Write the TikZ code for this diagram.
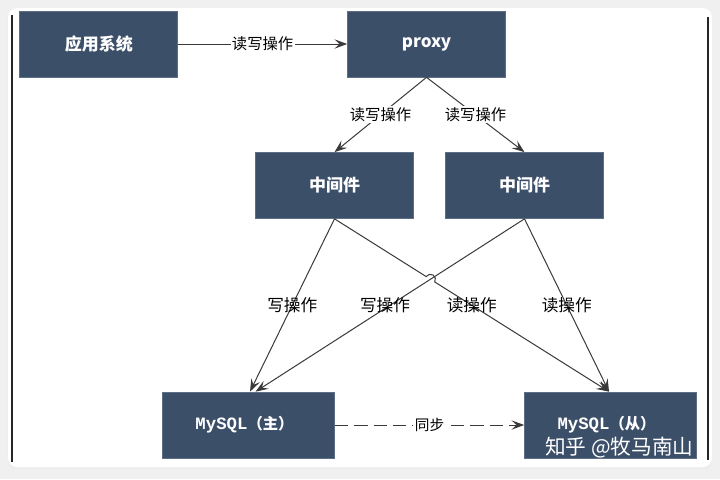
\documentclass[tikz,border=0pt]{standalone}
\usepackage{fontspec}
\newfontfamily\cjk{Noto Sans CJK SC}
\setmonofont{Liberation Mono}
\usetikzlibrary{arrows.meta,calc,intersections}
\definecolor{boxblue}{HTML}{3C4F69}
\definecolor{boxedge}{HTML}{5E6E84}
\definecolor{linegray}{HTML}{3A3A3A}
\definecolor{bggray}{HTML}{F0F0F0}
\begin{document}
\begin{tikzpicture}[x=0.75pt,y=0.75pt,
  box/.style={draw=boxedge, line width=0.5pt, fill=boxblue, text=white,
    minimum width=118.5pt, minimum height=49.5pt, inner sep=0pt,
    font=\cjk\bfseries\fontsize{12.75}{14}\selectfont},
  dbbox/.style={box, minimum width=129pt, font=\ttfamily\bfseries\fontsize{13}{14}\selectfont},
  conn/.style={draw=linegray, line width=0.75pt,
    -{Stealth[length=9.5pt,width=7pt,inset=3.8pt,fill=linegray]}},
  toplab/.style={font=\cjk\fontsize{11.5}{13}\selectfont, text=black, fill=white, inner sep=1pt},
  lowlab/.style={font=\cjk\fontsize{12.5}{14}\selectfont, text=black, inner sep=0pt},
  frame/.style={line width=1.2pt, draw=black!85}
]
\useasboundingbox (0,0) rectangle (720,-479);
\fill[bggray] (0,0) rectangle (720,-479);
\fill[black!7, rounded corners=7pt] (7.5,-9) rectangle (712.5,-469.5);
\fill[white, rounded corners=7pt] (8,-8) rectangle (712,-467);
\draw[frame] (12,-15) -- (12,-462);
\draw[frame] (708,-17) -- (708,-460);

% boxes
\node[box] (app) at (98.75,-44) {应用系统};
\node[box] (proxy) at (426.5,-44) {proxy};
\node[box] (m1) at (334.5,-185.5) {中间件};
\node[box] (m2) at (524.5,-185.5) {中间件};
\node[dbbox] (ms) at (248.5,-425) {\hspace*{-6pt}MySQL{\cjk\bfseries\fontsize{11.5}{14}\selectfont （主）}};
\node[dbbox] (sl) at (610.5,-425) {\hspace*{-6pt}MySQL{\cjk\bfseries\fontsize{11.5}{14}\selectfont （从）}};

% upper connectors
\draw[conn] (app.east) -- node[toplab] {读写操作} (proxy.west);
\draw[conn] (proxy.south) -- node[toplab] {读写操作} (m1.north);
\draw[conn] (proxy.south) -- node[toplab] {读写操作} (m2.north);

% lower connectors
\coordinate (msa) at ([xshift=1.125pt]ms.north);
\coordinate (msb) at ([xshift=5.25pt]ms.north);
\coordinate (sla) at ([xshift=-1.125pt]sl.north);

\draw[conn] (m1.south) -- (msa);
\node[lowlab] at ($(m1.south)!0.5!(msa)$) {写操作};

\draw[conn] (m2.south) -- (msb);
\node[lowlab] at ($(m2.south)!0.5!(msb)+(-5,0)$) {写操作};

\path[name path=pa] (m1.south) -- (sla);
\path[name path=pb] (m2.south) -- (msb);
\path[name intersections={of=pa and pb, by=X}];
\draw[conn] let \p1=($(sla)-(m1.south)$), \n1={atan2(\y1,\x1)} in
  (m1.south) -- ($(X)!3.75pt!(m1.south)$)
  arc[start angle=\n1+180, end angle=\n1, radius=3.75pt] -- (sla);
\node[lowlab] at ($(m1.south)!0.5!(sla)$) {读操作};

\draw[conn] (m2.south) -- (sla);
\node[lowlab] at ($(m2.south)!0.5!(sla)$) {读操作};

% sync
\draw[conn, dash pattern=on 10pt off 4.5pt] (ms.east) -- node[toplab, font=\cjk\fontsize{11}{13}\selectfont, fill=white, inner sep=1.5pt] {同步} (sl.west);

% watermark
\node[anchor=west, text=white, inner sep=0pt, font=\cjk\fontsize{15.5}{17}\selectfont] (wm) at (545,-448) {知乎 @牧马南山};
\end{tikzpicture}
\end{document}
